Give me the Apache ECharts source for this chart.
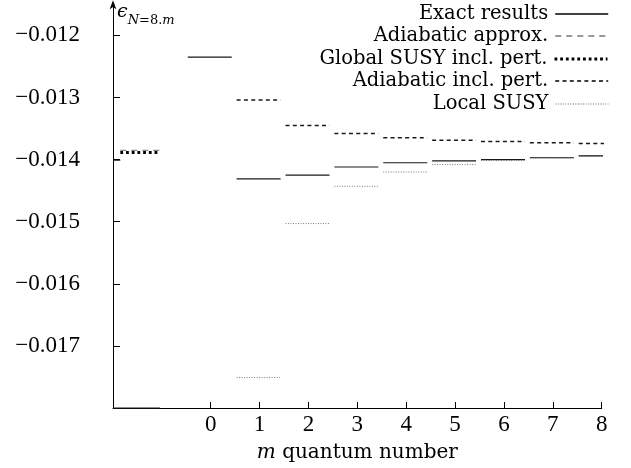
<!DOCTYPE html>
<html><head><meta charset="utf-8">
<script src="https://cdn.jsdelivr.net/npm/echarts@6/dist/echarts.min.js"></script>
<style>html,body{margin:0;padding:0;background:#fff}#c{width:631px;height:468px}</style>
</head><body><div id="c"></div>
<script>
// ---- data ----
const mValues = [0, 1, 2, 3, 4, 5, 6, 7, 8];
const exact = [-0.01235, -0.01431, -0.01425, -0.01412, -0.01405, -0.01402, -0.01400, -0.01397, -0.01394];
const adiabaticPert = [null, -0.01304, -0.01345, -0.01358, -0.01365, -0.01369, -0.01371, -0.01373, -0.01374];
const localSusy = [null, -0.01751, -0.01503, -0.01443, -0.01420, -0.01408, -0.01401, -0.01397, -0.01394];
// m-independent results shown in the slot left of m = 0
const leftSlotRange = [-1.85, -1.04];
const adiabaticApprox = -0.013853;
const globalSusy = -0.013885;
const exactLeftStub = { range: [-2, -1.85], value: -0.01401 };
const exactBottomStub = { range: [-2, -1.04], value: -0.018 };
const yTicks = [-0.017, -0.016, -0.015, -0.014, -0.013, -0.012];
const xTicks = [0, 1, 2, 3, 4, 5, 6, 7, 8];
const seriesNames = ['Exact results', 'Adiabatic approx.', 'Global SUSY incl. pert.', 'Adiabatic incl. pert.', 'Local SUSY'];

// ---- helpers ----
const SEG_L = 0.47, SEG_R = 0.43;
function segs(vals) {
  const out = [];
  vals.forEach((v, i) => {
    if (v == null) return;
    const m = mValues[i];
    out.push([m - SEG_L, v], [m + SEG_R, v], [m + SEG_R, '-']);
  });
  return out;
}
function seg(range, v) { return [[range[0], v], [range[1], v], [range[1], '-']]; }

const NUMFONT = '"Liberation Serif", serif';
const TXTFONT = '"DejaVu Serif", serif';
const chart = echarts.init(document.getElementById('c'), null, { renderer: 'canvas' });

const styles = {
  'Exact results': { color: '#1a1a1a', width: 1.1, type: 'solid' },
  'Adiabatic approx.': { color: '#8a8a8a', width: 1.2, type: [6, 5] },
  'Global SUSY incl. pert.': { color: '#000', width: 3, type: [2.8, 2.9] },
  'Adiabatic incl. pert.': { color: '#1a1a1a', width: 1.5, type: [4, 3.3] },
  'Local SUSY': { color: '#7a7a7a', width: 1, type: [1, 1.5] }
};
const legendLine = {
  'Exact results': { color: '#000', width: 1.6, type: 'solid' },
  'Adiabatic approx.': { color: '#777', width: 1.4, type: [6, 5] },
  'Global SUSY incl. pert.': { color: '#000', width: 3, type: [2.8, 2.9] },
  'Adiabatic incl. pert.': { color: '#000', width: 1.6, type: [4, 3.3] },
  'Local SUSY': { color: '#666', width: 1.2, type: [1, 1.5] }
};
const dataByName = {
  'Exact results': segs(exact).concat(seg(exactLeftStub.range, exactLeftStub.value), seg(exactBottomStub.range, exactBottomStub.value)),
  'Adiabatic approx.': seg(leftSlotRange, adiabaticApprox),
  'Global SUSY incl. pert.': seg(leftSlotRange, globalSusy),
  'Adiabatic incl. pert.': segs(adiabaticPert),
  'Local SUSY': segs(localSusy)
};
const drawOrder = ['Local SUSY', 'Adiabatic approx.', 'Adiabatic incl. pert.', 'Global SUSY incl. pert.', 'Exact results'];

const legendRowsY = [4, 26, 49, 71, 94];
const option = {
  animation: false,
  backgroundColor: '#fff',
  title: {
    text: '{e|ϵ}{s|N}{t|=8.}{s|m}',
    left: 117, top: 3, padding: 0,
    textStyle: {
      rich: {
        e: { fontFamily: TXTFONT, fontSize: 19, fontStyle: 'italic', fontWeight: 'normal', color: '#000', lineHeight: 24, verticalAlign: 'top' },
        s: { fontFamily: TXTFONT, fontSize: 13, fontStyle: 'italic', fontWeight: 'normal', color: '#000', verticalAlign: 'bottom', lineHeight: 24, padding: [9, 0, 0, 0] },
        t: { fontFamily: TXTFONT, fontSize: 13, fontWeight: 'normal', color: '#000', verticalAlign: 'bottom', lineHeight: 24, padding: [9, 0, 0, 0] }
      }
    }
  },
  legend: seriesNames.map((n, i) => ({
    data: [n], orient: 'vertical', align: 'right', right: 22, top: legendRowsY[i], padding: 0,
    itemWidth: 53, itemHeight: 14, selectedMode: false,
    itemStyle: { opacity: 0 },
    lineStyle: legendLine[n],
    textStyle: { fontFamily: TXTFONT, fontSize: 19.5, color: '#000', padding: [0, 2, 0, 0] }
  })),
  grid: { left: 113, right: 29.3, top: 4.35, bottom: 53 },
  xAxis: {
    type: 'value', min: -2, max: 8, interval: 1,
    name: '{i|m} quantum number', nameLocation: 'middle', nameGap: 35,
    nameTextStyle: { fontFamily: TXTFONT, fontSize: 20, color: '#000',
      rich: { i: { fontFamily: TXTFONT, fontSize: 20, fontStyle: 'italic', color: '#000' } } },
    axisLine: { onZero: false, lineStyle: { color: '#000', width: 1 } },
    axisTick: { inside: true, length: 6, customValues: xTicks, lineStyle: { color: '#000' } },
    axisLabel: { customValues: xTicks, fontFamily: NUMFONT, fontSize: 23, color: '#000', margin: 5 },
    splitLine: { show: false }
  },
  yAxis: {
    type: 'value', min: -0.018, max: -0.0115, interval: 0.001,
    axisLine: { show: true, onZero: false, symbol: ['none', 'arrow'], symbolSize: [5, 9], symbolOffset: [0, 4], lineStyle: { color: '#000', width: 1 } },
    axisTick: { inside: true, length: 7, customValues: yTicks, lineStyle: { color: '#000' } },
    axisLabel: { customValues: yTicks, fontFamily: NUMFONT, fontSize: 23, color: '#000', margin: 33,
      formatter: v => '\u2212' + Math.abs(v).toFixed(3) },
    splitLine: { show: false }
  },
  series: drawOrder.map(n => ({
    name: n, type: 'line', data: dataByName[n], symbol: 'none', showSymbol: false,
    clip: false, connectNulls: false, silent: true,
    lineStyle: styles[n], itemStyle: { color: styles[n].color }
  }))
};
chart.setOption(option);
</script></body></html>
